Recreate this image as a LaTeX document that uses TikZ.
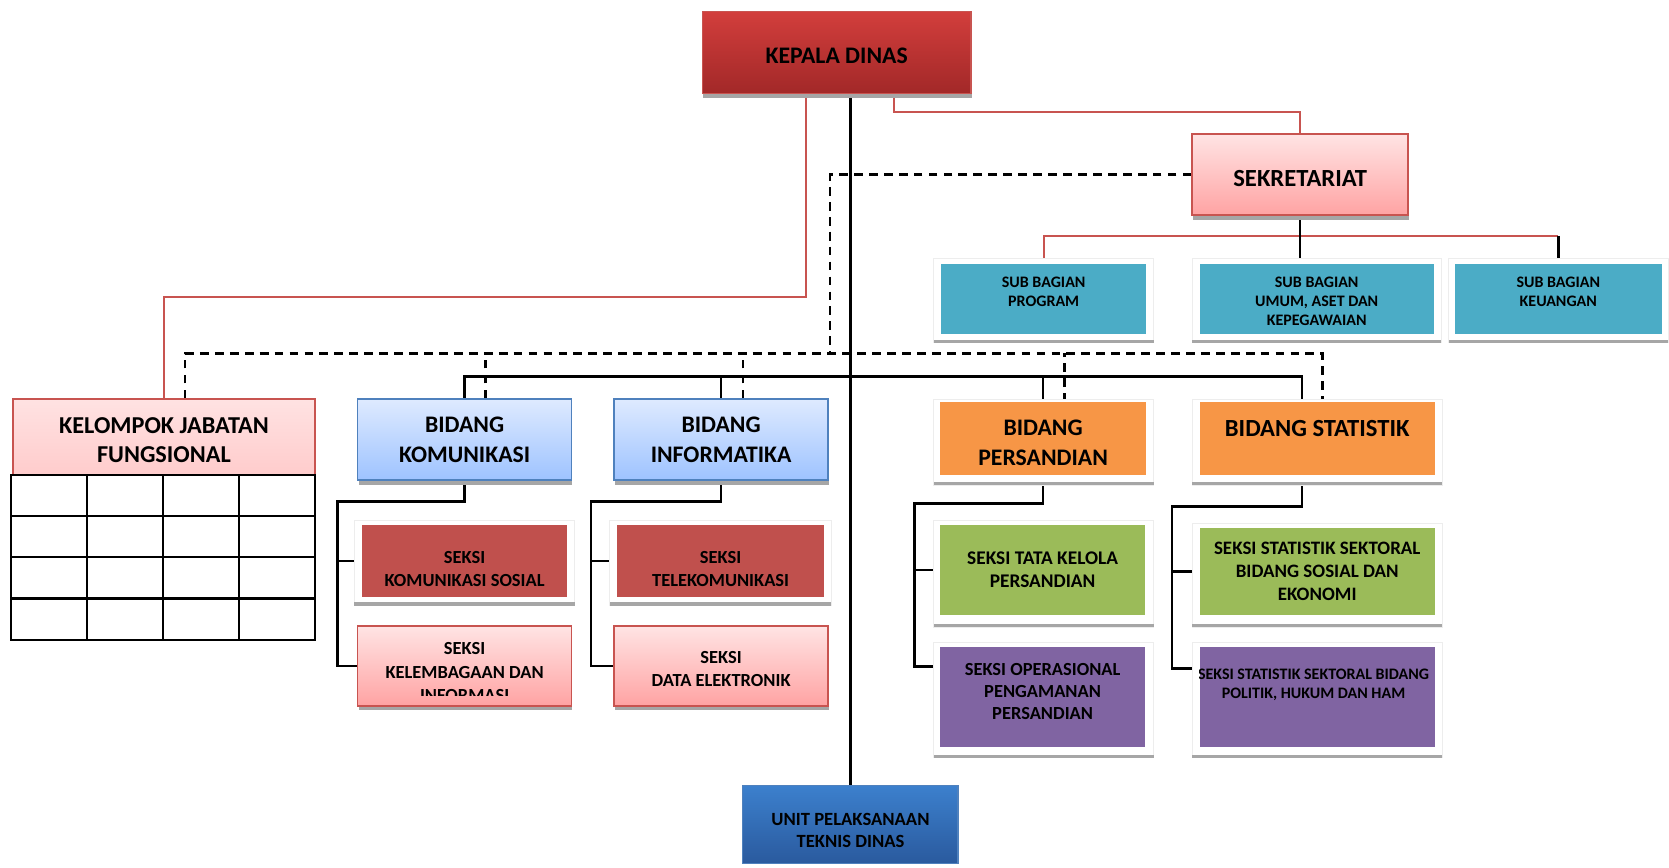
\documentclass[tikz,border=0pt]{standalone}
\usepackage{fontspec}
\setmainfont{Carlito}
\usetikzlibrary{shadows}
\def\pxu{0.021288cm}
\definecolor{kdtop}{RGB}{210,62,60}
\definecolor{kdbot}{RGB}{162,40,40}
\definecolor{redborder}{RGB}{200,84,80}
\definecolor{pinktop}{RGB}{255,228,228}
\definecolor{pinkbot}{RGB}{255,163,163}
\definecolor{kjftop}{RGB}{255,226,226}
\definecolor{kjfbot}{RGB}{255,204,204}
\definecolor{bluetop}{RGB}{222,234,255}
\definecolor{bluebot}{RGB}{158,195,255}
\definecolor{blueborder}{RGB}{79,129,189}
\definecolor{upttop}{RGB}{60,128,205}
\definecolor{uptbot}{RGB}{42,90,158}
\definecolor{tealfill}{RGB}{75,172,198}
\definecolor{orangefill}{RGB}{247,150,70}
\definecolor{greenfill}{RGB}{155,187,89}
\definecolor{purplefill}{RGB}{128,100,162}
\definecolor{darkredfill}{RGB}{192,80,77}
\definecolor{barcol}{RGB}{166,166,166}
\pgfdeclarelayer{background}
\pgfsetlayers{background,main}
\tikzset{
	boxwh/.style 2 args={minimum width=#1*\pxu, minimum height=#2*\pxu},
	basebox/.style={rectangle, align=center, inner sep=0pt},
	txtdown/.style={execute at begin node={\rule{0pt}{\dimexpr0.632em+#1pt\relax}}},
	boxshadow/.style={drop shadow={shadow xshift=0.5pt, shadow yshift=-2.6pt, fill=black!35, opacity=1}},
	headfont/.style={font=\bfseries\fontsize{13.5}{17}\selectfont},
	seksifont/.style={font=\bfseries\fontsize{10.5}{13.3}\selectfont},
	subfont/.style={font=\bfseries\fontsize{9.1}{10.9}\selectfont}
}
\tikzset{
	kepalabox/.style={basebox, headfont, top color=kdtop, bottom color=kdbot, draw=redborder, line width=0.9pt, boxshadow},
	pinkbox/.style={basebox, top color=pinktop, bottom color=pinkbot, draw=redborder, line width=0.9pt, boxshadow},
	kjfbox/.style={basebox, font=\bfseries\fontsize{13.8}{16.4}\selectfont, top color=kjftop, bottom color=kjfbot, draw=redborder, line width=0.9pt},
	bluebox/.style={basebox, headfont, top color=bluetop, bottom color=bluebot, draw=blueborder, line width=0.9pt, boxshadow},
	uptdbox/.style={basebox, font=\bfseries\fontsize{10.6}{12.8}\selectfont, top color=upttop, bottom color=uptbot, draw=blueborder, line width=0.6pt},
	flatbox/.style={basebox, fill=#1},
	whiteframe/.style={fill=white, draw=black!7, line width=0.5pt},
	blackline/.style={line width=1.4pt, black},
	redline/.style={line width=1pt, redborder},
	dashline/.style={line width=1.3pt, dash pattern=on 5pt off 3.5pt},
	tableline/.style={line width=1.3pt, line cap=rect}
}

\begin{document}
\begin{tikzpicture}[x=\pxu, y=-\pxu]
	\useasboundingbox (0,0) rectangle (1568,815);
	
	\node[kepalabox, txtdown=3.6, boxwh={252}{77}] at (786,49.5) (kepala) {KEPALA DINAS};
	\node[pinkbox, font=\bfseries\fontsize{14}{17}\selectfont, txtdown=4.8, boxwh={203}{76}] at (1221.5,164) (sekretariat) {SEKRETARIAT};
	
	\node[flatbox=tealfill, subfont, boxwh={193}{66}] at (980.5,281) (subprogram) {\mbox{}\\[-2.7pt]SUB BAGIAN\\PROGRAM\\\mbox{}};
	\node[flatbox=tealfill, subfont, boxwh={220}{66}] at (1237,281) (subumum) {\mbox{}\\[-2.7pt]SUB BAGIAN\\UMUM, ASET DAN\\KEPEGAWAIAN};
	\node[flatbox=tealfill, subfont, boxwh={194}{66}] at (1464,281) (subkeuangan) {\mbox{}\\[-2.7pt]SUB BAGIAN\\KEUANGAN\\\mbox{}};
	
	\node[kjfbox, boxwh={284}{71}] at (154,410.5) (kjf) {\mbox{}\\[-4pt]KELOMPOK JABATAN\\FUNGSIONAL};
	\node[bluebox, boxwh={201}{76}] at (436.5,413) (bidkom) {BIDANG\\KOMUNIKASI};
	\node[bluebox, boxwh={201}{76}] at (677.5,413) (bidinf) {BIDANG\\INFORMATIKA};
	\node[flatbox=orangefill, headfont, boxwh={194}{68}] at (980,412) (bidsandi) {\mbox{}\\[-3pt]BIDANG\\PERSANDIAN};
	\node[flatbox=orangefill, font=\bfseries\fontsize{14}{17}\selectfont, boxwh={221}{68}] at (1237.5,412) (bidstat) {\mbox{}\\[-2.1pt]BIDANG STATISTIK\\\mbox{}};
	
	\node[flatbox=darkredfill, seksifont, boxwh={193}{68}] at (436.5,527) (seksikomsos) {\mbox{}\\[3pt]SEKSI\\KOMUNIKASI SOSIAL};
	\node[pinkbox, boxwh={201}{75}] at (436.5,625.5) (seksilembaga) {};
	\node[flatbox=darkredfill, seksifont, boxwh={194}{68}] at (677,527) (seksitelkom) {\mbox{}\\[3pt]SEKSI\\TELEKOMUNIKASI};
	\node[pinkbox, seksifont, boxwh={201}{75}] at (677.5,625.5) (seksidata) {\mbox{}\\[-3pt]SEKSI\\DATA ELEKTRONIK};
	\node[flatbox=greenfill, font=\bfseries\fontsize{11}{13.3}\selectfont, boxwh={193}{85}] at (979.5,535.5) (seksitatakelola) {SEKSI TATA KELOLA\\PERSANDIAN};
	\node[flatbox=purplefill, font=\bfseries\fontsize{10.5}{12.7}\selectfont, boxwh={193}{94}] at (979.5,655) (seksiops) {SEKSI OPERASIONAL\\PENGAMANAN\\PERSANDIAN\\[-6pt]\mbox{}};
	\node[flatbox=greenfill, font=\bfseries\fontsize{10.8}{13}\selectfont, boxwh={221}{82}] at (1237.5,537) (seksistatsos) {SEKSI STATISTIK SEKTORAL\\BIDANG SOSIAL DAN\\EKONOMI};
	\node[flatbox=purplefill, boxwh={221}{94}] at (1237.5,655) (seksistatpol) {};
	
	\node[uptdbox, boxwh={202}{73}] at (799,774.5) (uptd) {\mbox{}\\[1.2pt]UNIT PELAKSANAAN\\TEKNIS DINAS};
	
	% texts that run out of their box
	\begin{scope}
		\clip (336,588) rectangle (537,653);
		\node[basebox, seksifont] at (436.5,631.5) (lembagatext) {SEKSI\\KELEMBAGAAN DAN\\INFORMASI};
	\end{scope}
	\begin{scope}
		\clip (1127,608) rectangle (1348,702);
		\node[basebox, font=\bfseries\fontsize{9.1}{10.9}\selectfont] at (1234,643.5) (statpoltext) {SEKSI STATISTIK SEKTORAL BIDANG\\POLITIK, HUKUM DAN HAM};
	\end{scope}
	
	% table under kelompok jabatan fungsional
	\foreach \c in {0,...,4}
		\draw[tableline] (10+71.5*\c,446) -- (10+71.5*\c,601);
	\foreach \r in {0,...,4}
		\draw[tableline] (10,446+38.75*\r) -- (296,446+38.75*\r);
	
	\coordinate (dashjoint) at (780,332);
	\coordinate (busR) at (1223,353.5);
	\coordinate (subbus) at (1222,222);
	\coordinate (komjoint) at (317,471);
	\coordinate (infjoint) at (555,471);
	\coordinate (sandijoint) at (859,473);
	\coordinate (statjoint) at (1101,476);
	
	\begin{pgfonlayer}{background}
		\draw[redline] ([xshift=-29*\pxu]kepala.south) |- ([yshift=95*\pxu]kjf.north) -- (kjf.north);
		\draw[redline] ([xshift=54*\pxu]kepala.south) |- ([yshift=20*\pxu]sekretariat.north) -- (sekretariat.north);
		\draw[redline] (subprogram.north) |- (subkeuangan.north |- subbus);
		
		\draw[dashline] (sekretariat.west) -| (dashjoint);
		\draw[dashline] ([xshift=20*\pxu]kjf.north) |- (dashjoint) -| ([xshift=5*\pxu]bidstat.north);
		\draw[dashline] ([xshift=19.5*\pxu]bidkom.north) -- ++(0,-43);
		\draw[dashline] ([xshift=20.5*\pxu]bidinf.north) -- ++(0,-43);
		\draw[dashline] ([xshift=20*\pxu]bidsandi.north) -- ++(0,-46);
		
		\draw[blackline] (kepala.south -| uptd.north) -- (uptd.north);
		\draw[blackline] (sekretariat.south) -- (sekretariat.south |- subumum.north);
		\draw[blackline] (subkeuangan.north) -- (subkeuangan.north |- subbus);
		\draw[blackline] (bidkom.north) |- (busR) -- (busR |- bidstat.north);
		\draw[blackline] (bidinf.north) -- (bidinf.north |- busR);
		\draw[blackline] (bidsandi.north) -- (bidsandi.north |- busR);
		
		\draw[blackline] (bidkom.south) |- (komjoint) |- (seksilembaga.west);
		\draw[blackline] (seksikomsos.west) -- (seksikomsos.west -| komjoint);
		\draw[blackline] (bidinf.south) |- (infjoint) |- (seksidata.west);
		\draw[blackline] (seksitelkom.west) -- (seksitelkom.west -| infjoint);
		\draw[blackline] (bidsandi.south) |- (sandijoint) |- ([yshift=29*\pxu]seksiops.west);
		\draw[blackline] (seksitatakelola.west) -- (seksitatakelola.west -| sandijoint);
		\draw[blackline] (bidstat.south -| busR) |- (statjoint) |- ([yshift=27*\pxu]seksistatpol.west);
		\draw[blackline] (seksistatsos.west) -- (seksistatsos.west -| statjoint);
		
		% white frames with grey foot
		\foreach \xa/\ya/\xb/\yb in {877/243/1084/322, 1120/243/1354/322, 1361/243/1567/322,
			877/375/1084/456, 1120/375/1355/456, 333/489/540/569, 573/489/781/569,
			877/489/1084/589, 1120/492/1355/589, 877/604/1084/712, 1120/604/1355/712}
		{
			\filldraw[whiteframe] (\xa,\ya) rectangle (\xb,\yb);
			\fill[barcol] (\xa,\yb-3) rectangle (\xb,\yb);
		}
	\end{pgfonlayer}
\end{tikzpicture}
\end{document}
